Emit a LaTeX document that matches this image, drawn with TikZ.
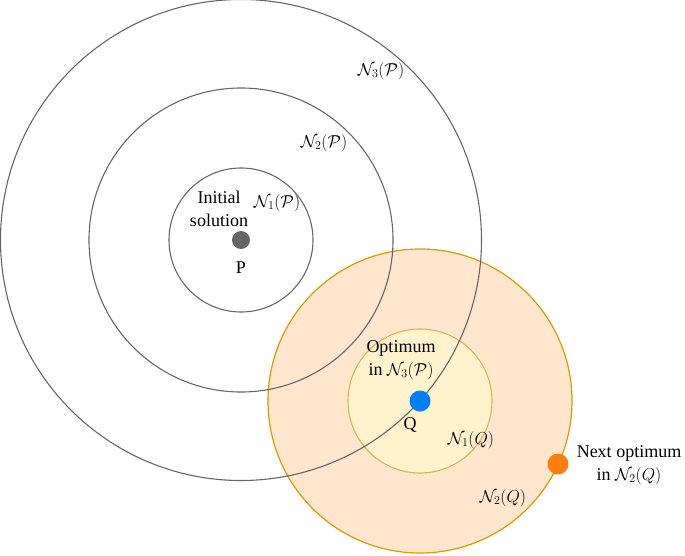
\documentclass[tikz,border=0pt]{standalone}
\usepackage{fontspec}
\setmainfont{Liberation Serif}
\definecolor{qofill}{HTML}{FFE6CC}
\definecolor{qodraw}{HTML}{D79B00}
\definecolor{qifill}{HTML}{FFF2CC}
\definecolor{qidraw}{HTML}{D6B656}
\definecolor{ringgray}{HTML}{666666}
\definecolor{qblue}{HTML}{007FFF}
\definecolor{qorange}{HTML}{FF7F0E}
\begin{document}
\begin{tikzpicture}[x=1pt,y=-1pt,
  pring/.style={draw=ringgray,line width=1.1pt},
  qouter/.style={draw=qodraw,fill=qofill,line width=1.2pt},
  qinner/.style={draw=qidraw,fill=qifill,line width=1.1pt},
  lbl/.style={font=\fontsize{18}{22}\selectfont,inner sep=0pt,align=center},
  dot/.style={circle,inner sep=0pt,minimum size=#1}]
\useasboundingbox (0,0) rectangle (685,556);
\coordinate (P) at (241,240);
\coordinate (Q) at (420,401);
% Q neighbourhoods
\draw[qouter] (Q) circle (152);
\draw[qinner] (Q) circle (72);
% P neighbourhoods
\draw[pring] (P) circle (72);
\draw[pring] (P) circle (152);
\draw[pring] (P) circle (240.5);
% dots
\node[dot=18pt,fill=ringgray] (pdot) at (P) {};
\node[dot=21pt,fill=qblue] (qdot) at (Q) {};
\node[dot=21pt,fill=qorange] (odot) at (558,464) {};
% labels
\node[lbl] (init) at (219,209) {Initial\\[1pt]solution};
\node[lbl] (plab) at (241,268) {P};
\node[lbl] (n1p) at (277,203) {$\mathcal{N}_{1}(\mathcal{P})$};
\node[lbl] (n2p) at (324,143) {$\mathcal{N}_{2}(\mathcal{P})$};
\node[lbl] (n3p) at (381,71) {$\mathcal{N}_{3}(\mathcal{P})$};
\node[lbl] (opt) at (401,360) {Optimum\\[1pt]in $\mathcal{N}_{3}(\mathcal{P})$};
\node[lbl] (qlab) at (410,425) {Q};
\node[lbl] (n1q) at (471,440) {$\mathcal{N}_{1}(Q)$};
\node[lbl] (n2q) at (503,498) {$\mathcal{N}_{2}(Q)$};
\node[lbl] (next) at (629,465) {Next optimum\\[1pt]in $\mathcal{N}_{2}(Q)$};
\end{tikzpicture}
\end{document}
